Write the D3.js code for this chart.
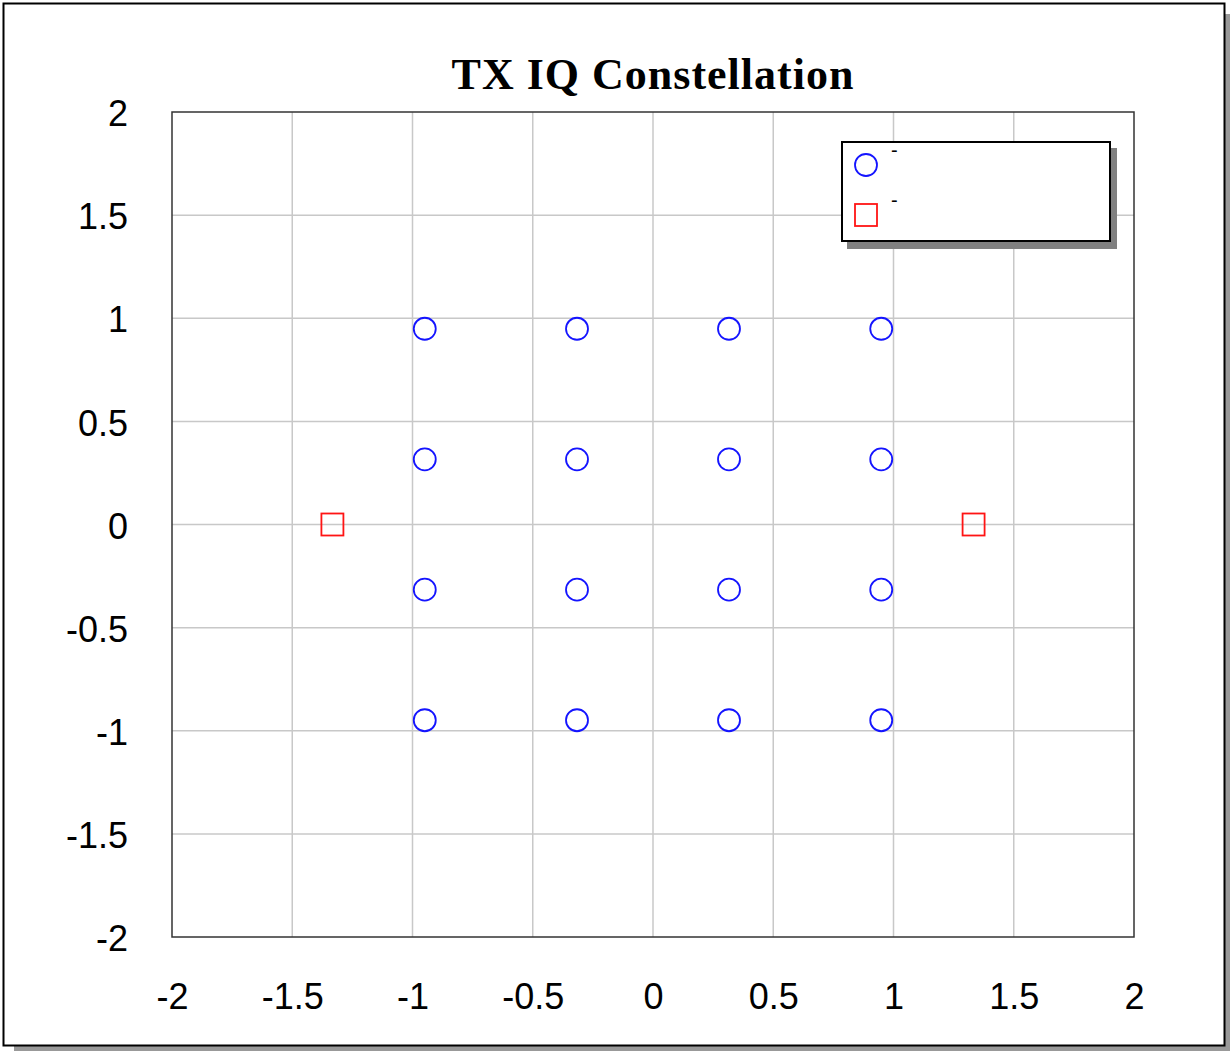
<!DOCTYPE html>
<html>
<head>
<meta charset="utf-8">
<script src="https://cdn.jsdelivr.net/npm/d3@7"></script>
<style>
  body { margin: 0; background: #fff; }
</style>
</head>
<body>
<div id="chart"></div>
<script>
// 16-QAM symbols (I, Q)
const symI = [-0.949, -0.316, 0.316, 0.949, -0.949, -0.316, 0.316, 0.949,
              -0.949, -0.316, 0.316, 0.949, -0.949, -0.316, 0.316, 0.949];
const symQ = [0.949, 0.949, 0.949, 0.949, 0.316, 0.316, 0.316, 0.316,
              -0.316, -0.316, -0.316, -0.316, -0.949, -0.949, -0.949, -0.949];
// second series (red squares)
const refI = [-1.333, 1.333];
const refQ = [0, 0];
const tickVals = [-2, -1.5, -1, -0.5, 0, 0.5, 1, 1.5, 2];
const legendLabels = ["-", "-"];
const title = "TX IQ Constellation";

const W = 1230, H = 1051;
const margin = { top: 112, right: 96, bottom: 114, left: 172 };
const width = W - margin.left - margin.right;
const height = H - margin.top - margin.bottom;
const fontFamily = "Arial, 'Liberation Sans', sans-serif";
const fmt = d => String(d); // plain hyphen minus like the original

const svg = d3.select("#chart").append("svg")
    .attr("width", W)
    .attr("height", H);

// outer frame with shadow
svg.append("rect").attr("x", 14).attr("y", 14).attr("width", 1216).attr("height", 1037).attr("fill", "#999");
svg.append("rect").attr("x", 3.5).attr("y", 3.5).attr("width", 1221).attr("height", 1042)
    .attr("fill", "#fff").attr("stroke", "#000").attr("stroke-width", 2);

const x = d3.scaleLinear().domain([-2, 2]).range([0, width]);
const y = d3.scaleLinear().domain([-2, 2]).range([height, 0]);

const chart = svg.append("g")
    .attr("transform", "translate(" + margin.left + "," + margin.top + ")");

// grid
chart.append("g")
    .selectAll("line")
    .data(tickVals.slice(1, -1))
    .join("line")
    .attr("x1", d => x(d)).attr("x2", d => x(d))
    .attr("y1", 0).attr("y2", height)
    .attr("stroke", "#c8c8c8").attr("stroke-width", 1.5);
chart.append("g")
    .selectAll("line")
    .data(tickVals.slice(1, -1))
    .join("line")
    .attr("y1", d => y(d)).attr("y2", d => y(d))
    .attr("x1", 0).attr("x2", width)
    .attr("stroke", "#c8c8c8").attr("stroke-width", 1.5);

chart.append("rect")
    .attr("width", width).attr("height", height)
    .attr("fill", "none").attr("stroke", "#333").attr("stroke-width", 1.5);

// axes (labels only)
const xAxis = d3.axisBottom(x).tickValues(tickVals).tickSize(0).tickPadding(46).tickFormat(fmt);
const yAxis = d3.axisLeft(y).tickValues(tickVals).tickSize(0).tickPadding(44).tickFormat(fmt);

chart.append("g")
    .attr("transform", "translate(0," + height + ")")
    .call(xAxis)
    .call(g => g.select(".domain").remove())
    .selectAll("text")
    .style("font-size", "36px").style("font-family", fontFamily).attr("fill", "#000");

chart.append("g")
    .call(yAxis)
    .call(g => g.select(".domain").remove())
    .selectAll("text")
    .style("font-size", "36px").style("font-family", fontFamily).attr("fill", "#000")
    .attr("dy", "0.38em");

// points
chart.append("g")
    .selectAll("circle")
    .data(symI)
    .join("circle")
    .attr("cx", d => x(d))
    .attr("cy", (d, i) => y(symQ[i]))
    .attr("r", 11)
    .attr("fill", "none").attr("stroke", "#1414ff").attr("stroke-width", 1.8);

chart.append("g")
    .selectAll("rect")
    .data(refI)
    .join("rect")
    .attr("x", d => x(d) - 11)
    .attr("y", (d, i) => y(refQ[i]) - 11)
    .attr("width", 22).attr("height", 22)
    .attr("fill", "none").attr("stroke", "#ff1414").attr("stroke-width", 1.8);

// title
svg.append("text")
    .attr("x", margin.left + width / 2)
    .attr("y", 89)
    .attr("text-anchor", "middle")
    .style("font-family", "'Times New Roman', 'Liberation Serif', serif")
    .style("font-weight", "bold")
    .style("font-size", "44px")
    .style("letter-spacing", "1px")
    .text(title);

// legend
const lg = svg.append("g").attr("transform", "translate(842,142)");
lg.append("rect").attr("x", 5).attr("y", 6).attr("width", 270).attr("height", 101).attr("fill", "#808080");
lg.append("rect").attr("width", 268).attr("height", 99)
    .attr("fill", "#fff").attr("stroke", "#000").attr("stroke-width", 2);
lg.append("circle").attr("cx", 24).attr("cy", 23).attr("r", 11)
    .attr("fill", "none").attr("stroke", "#1414ff").attr("stroke-width", 1.8);
lg.append("rect").attr("x", 13).attr("y", 62).attr("width", 22).attr("height", 22)
    .attr("fill", "none").attr("stroke", "#ff1414").attr("stroke-width", 1.8);
lg.selectAll("text.lbl")
    .data(legendLabels)
    .join("text")
    .attr("class", "lbl")
    .attr("x", 49)
    .attr("y", (d, i) => 15 + i * 50)
    .style("font-family", fontFamily)
    .style("font-size", "20px")
    .text(d => d);
</script>
</body>
</html>
